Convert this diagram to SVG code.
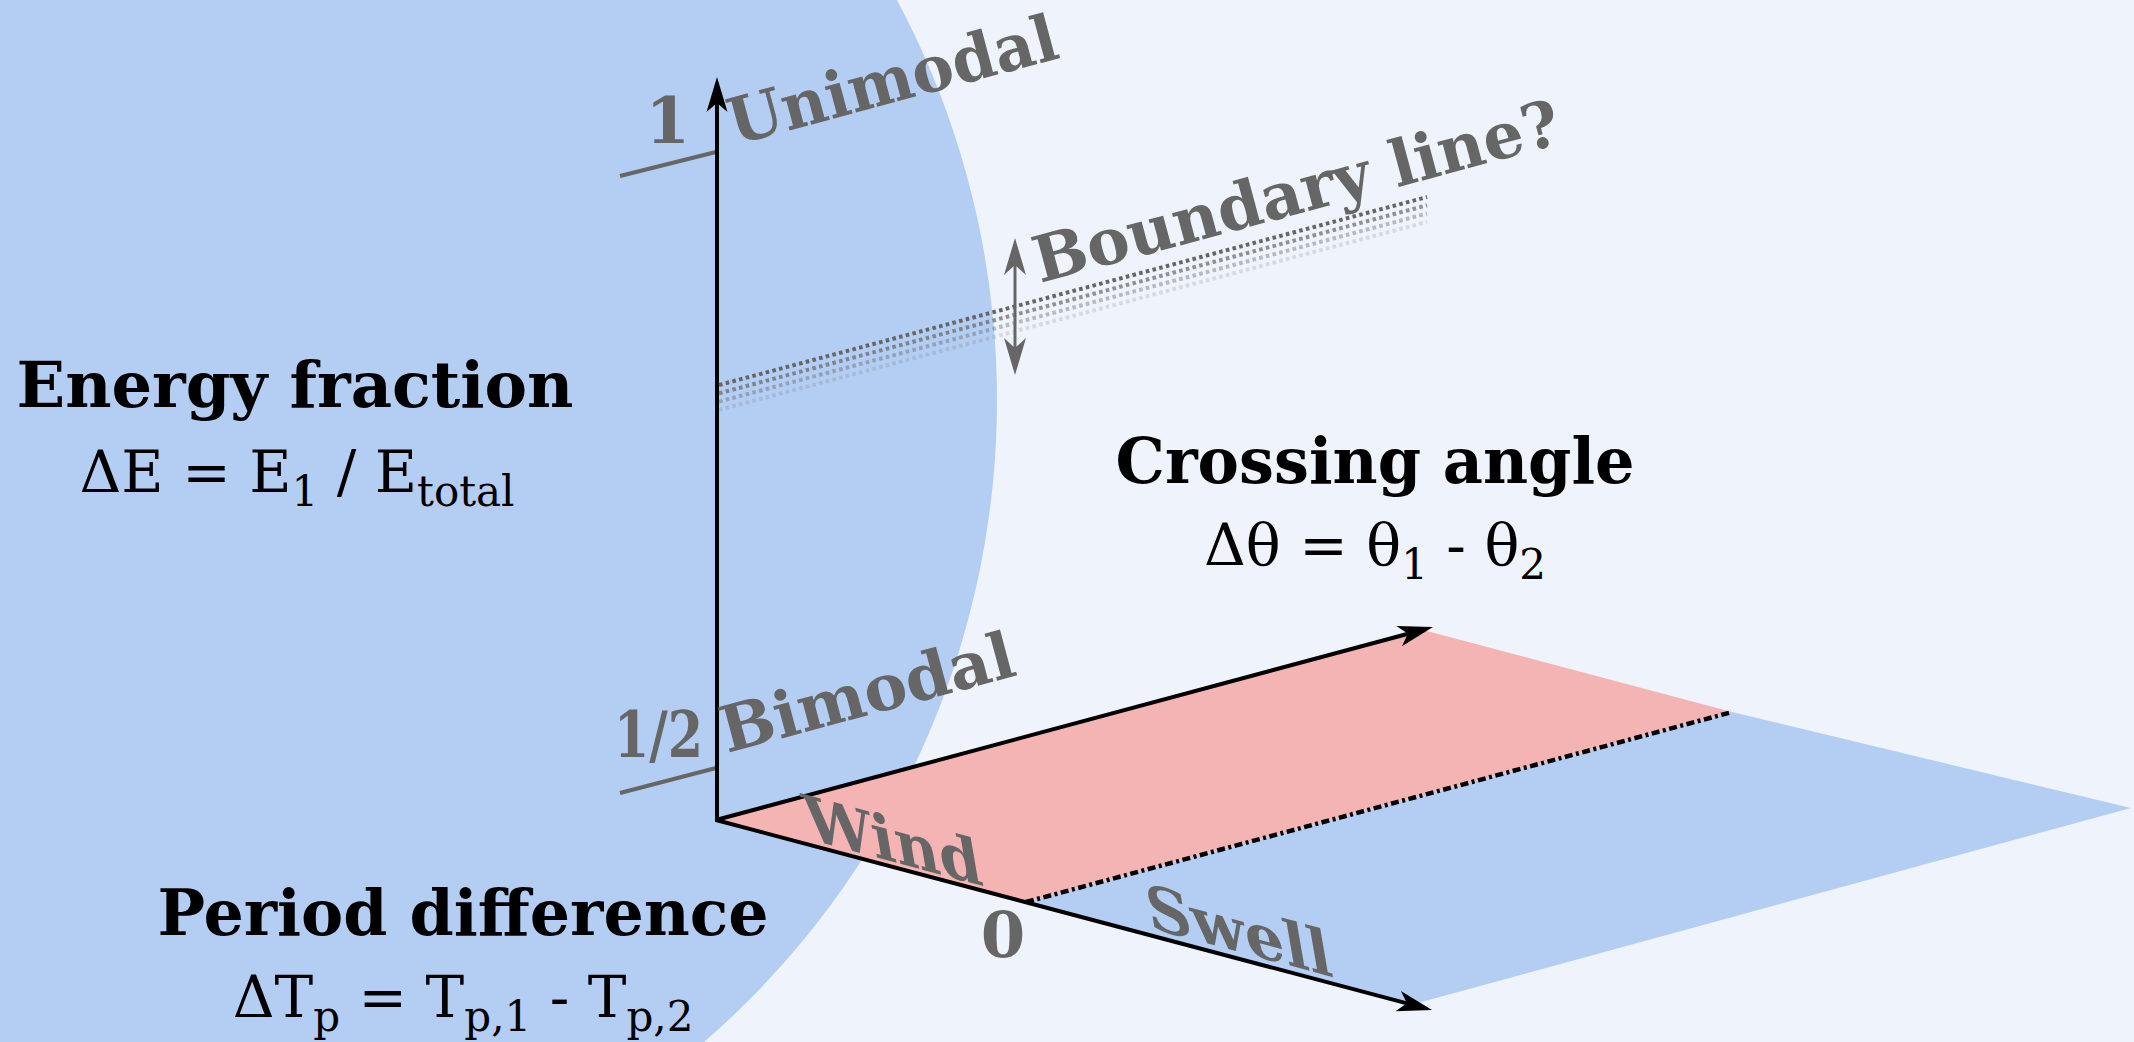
<svg xmlns="http://www.w3.org/2000/svg" width="2134" height="1042" viewBox="0 0 2134 1042">
<defs>
<style>
.title{font-family:"DejaVu Serif","Liberation Serif",serif;font-weight:bold;font-size:64px;fill:#000}
.fx{font-family:"DejaVu Serif","Liberation Serif",serif;font-size:58px;fill:#000}
.sub{font-size:42px}
.lab{font-family:"DejaVu Serif","Liberation Serif",serif;font-weight:bold;font-size:64px;fill:#666}
.axis{stroke:#000;stroke-width:4;fill:none}
.tick{stroke:#666;stroke-width:4;fill:none}
.dots{stroke-width:4;stroke-dasharray:3.6 3.3;fill:none}
</style>
<marker id="ah" viewBox="-20 -14 44 28" refX="0" refY="0" markerWidth="44" markerHeight="28" markerUnits="userSpaceOnUse" orient="auto">
<path d="M20,0 L-15,-10.5 L-6,0 L-15,10.5 Z" fill="#000"/>
</marker>
<marker id="gh" viewBox="-20 -14 44 28" refX="0" refY="0" markerWidth="44" markerHeight="28" markerUnits="userSpaceOnUse" orient="auto-start-reverse">
<path d="M20,0 L-17,-11 L-7,0 L-17,11 Z" fill="#666"/>
</marker>
</defs>
<rect id="background" x="0" y="0" width="2134" height="1042" fill="#EFF4FC"/>
<g id="bimodal-region"><circle cx="147" cy="400" r="850" fill="#B4CEF3"/></g>
<g id="swell-plane"><polygon points="1026,902 1732,712 2131,808 1414,1004" fill="#B4CEF3"/></g>
<g id="wind-plane"><polygon points="717,820 1423,630 1732,712 1026,902" fill="#F5B4B4"/></g>
<g id="boundary-band">
<line class="dots" x1="719" y1="385" x2="1427" y2="197" stroke="#666"/>
<line class="dots" x1="719" y1="393.3" x2="1427" y2="205.3" stroke="#666" stroke-opacity="0.7"/>
<line class="dots" x1="719" y1="401.6" x2="1427" y2="213.6" stroke="#666" stroke-opacity="0.42"/>
<line class="dots" x1="719" y1="409.9" x2="1427" y2="221.9" stroke="#666" stroke-opacity="0.18"/>
</g>
<g id="connectors">
<line class="tick" x1="620" y1="176" x2="716" y2="152"/>
<line class="tick" x1="620" y1="793" x2="716" y2="768"/>
<line class="axis" x1="717" y1="822" x2="717" y2="97" marker-end="url(#ah)"/>
<line class="axis" x1="716" y1="820" x2="1413.7" y2="632.2" marker-end="url(#ah)"/>
<line class="axis" x1="716" y1="820" x2="1412.7" y2="1004.9" marker-end="url(#ah)"/>
<line x1="1026" y1="902" x2="1732" y2="712" stroke="#000" stroke-width="4.5" stroke-dasharray="8 3.5 3 3.5"/>
<line x1="1015" y1="258" x2="1015" y2="355" stroke="#666" stroke-width="3" marker-start="url(#gh)" marker-end="url(#gh)"/>
</g>
<g id="energy-label">
<text class="title" x="295" y="407" text-anchor="middle" textLength="557" lengthAdjust="spacingAndGlyphs">Energy fraction</text>
<text class="fx" x="297" y="492" text-anchor="middle">ΔE = E<tspan class="sub" dy="14">1</tspan><tspan dy="-14"> / E</tspan><tspan class="sub" dy="14">total</tspan></text>
</g>
<g id="crossing-label">
<text class="title" x="1375" y="483" text-anchor="middle" textLength="519" lengthAdjust="spacingAndGlyphs">Crossing angle</text>
<text class="fx" x="1375" y="565" text-anchor="middle">Δθ = θ<tspan class="sub" dy="14">1</tspan><tspan dy="-14"> - θ</tspan><tspan class="sub" dy="14">2</tspan></text>
</g>
<g id="period-label">
<text class="title" x="463" y="935" text-anchor="middle" textLength="611" lengthAdjust="spacingAndGlyphs">Period difference</text>
<text class="fx" x="463" y="1017" text-anchor="middle">ΔT<tspan class="sub" dy="14">p</tspan><tspan dy="-14"> = T</tspan><tspan class="sub" dy="14">p,1</tspan><tspan dy="-14"> - T</tspan><tspan class="sub" dy="14">p,2</tspan></text>
</g>
<g id="axis-labels">
<text class="lab" x="690" y="143" text-anchor="end">1</text>
<text class="lab" x="703" y="757" text-anchor="end" textLength="89" lengthAdjust="spacingAndGlyphs">1/2</text>
<text class="lab" x="1003" y="957" text-anchor="middle">0</text>
<text class="lab" transform="translate(735,145) rotate(-15)" textLength="338" lengthAdjust="spacingAndGlyphs">Unimodal</text>
<text class="lab" transform="translate(727,753) rotate(-15)" textLength="302" lengthAdjust="spacingAndGlyphs">Bimodal</text>
<text class="lab" transform="translate(1040,283) rotate(-15)">Boundary line?</text>
<text class="lab" transform="matrix(0.966 0.259 0.17 0.985 808 839)" textLength="183" lengthAdjust="spacingAndGlyphs">Wind</text>
<text class="lab" transform="matrix(0.966 0.259 0.17 0.985 1150 928)" textLength="191" lengthAdjust="spacingAndGlyphs">Swell</text>
</g>
</svg>
